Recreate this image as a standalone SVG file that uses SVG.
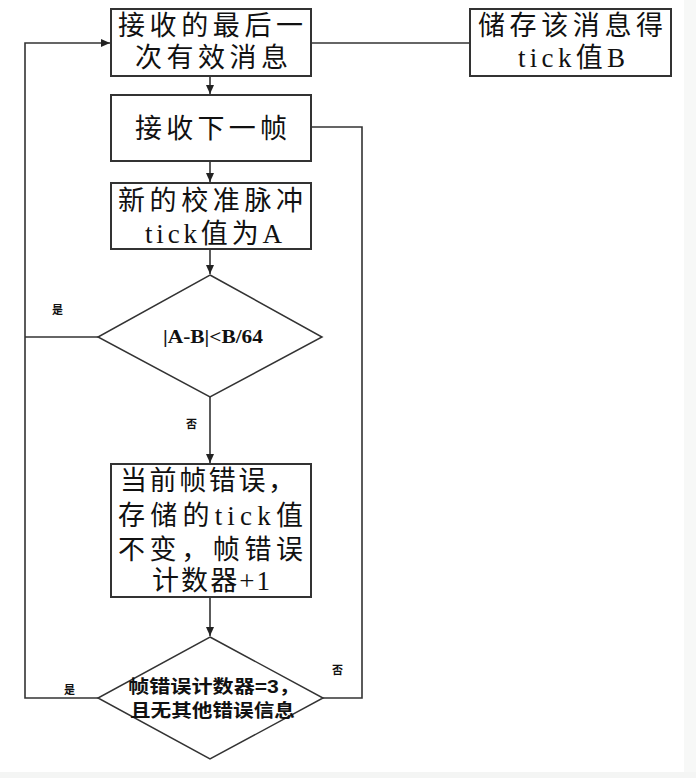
<svg xmlns="http://www.w3.org/2000/svg" width="696" height="778" viewBox="0 0 696 778">
<style>
.bg{fill:#ffffff}
.box{fill:#ffffff;stroke:#333333;stroke-width:2}
.dia{fill:#ffffff;stroke:#333333;stroke-width:1.5}
.ln{fill:none;stroke:#333333;stroke-width:1.6}
.t{font-family:"Liberation Serif","Noto Sans CJK SC",serif;font-size:27px;fill:#111111}
.d{font-family:"Liberation Sans","Noto Sans CJK SC",sans-serif;font-size:18px;font-weight:bold;fill:#111111}
.d1{font-family:"Liberation Serif","Noto Sans CJK SC",serif;font-size:18px;font-weight:bold;fill:#111111}
.lb{font-family:"Liberation Sans","Noto Sans CJK SC",sans-serif;font-size:11px;font-weight:bold;fill:#111111}
</style>
<defs>
<marker id="ah" markerWidth="10" markerHeight="10" refX="9" refY="5" orient="auto" markerUnits="userSpaceOnUse">
<path d="M0,1 L9,5 L0,9 Z" fill="#222222"/>
</marker>
</defs>
<rect class="bg" x="0" y="0" width="696" height="778"/>
<rect x="684" y="0" width="12" height="778" fill="#f7f8f7"/>
<rect x="0" y="772" width="696" height="6" fill="#f4f5f4"/>
<g id="connectors">
<path class="ln" d="M311,43 H470"/>
<path class="ln" d="M210,76 V94" marker-end="url(#ah)"/>
<path class="ln" d="M210,161 V182" marker-end="url(#ah)"/>
<path class="ln" d="M210,249 V274" marker-end="url(#ah)"/>
<path class="ln" d="M210,397 V463" marker-end="url(#ah)"/>
<path class="ln" d="M210,597 V636" marker-end="url(#ah)"/>
<path class="ln" d="M98,337 H25"/>
<path class="ln" d="M98,698 H25 V43 H110" marker-end="url(#ah)"/>
<path class="ln" d="M323,698 H362 V127 H311"/>
<text class="lb" x="52" y="314">是</text>
<text class="lb" x="186" y="428">否</text>
<text class="lb" x="64" y="694">是</text>
<text class="lb" x="332" y="674">否</text>
</g>
<g id="n1">
<rect class="box" x="111" y="9" width="200" height="67"/>
<text class="t" x="118" y="35" textLength="185" lengthAdjust="spacing">接收的最后一</text>
<text class="t" x="135" y="67" textLength="153" lengthAdjust="spacing">次有效消息</text>
</g>
<g id="n_store">
<rect class="box" x="470" y="9" width="201" height="67"/>
<text class="t" x="478" y="35" textLength="185" lengthAdjust="spacing">储存该消息得</text>
<text class="t" x="518" y="67" textLength="107" lengthAdjust="spacing">tick值B</text>
</g>
<g id="n2">
<rect class="box" x="111" y="95" width="200" height="66"/>
<text class="t" x="135" y="138" textLength="152" lengthAdjust="spacing">接收下一帧</text>
</g>
<g id="n3">
<rect class="box" x="111" y="183" width="200" height="66"/>
<text class="t" x="118" y="210" textLength="185" lengthAdjust="spacing">新的校准脉冲</text>
<text class="t" x="145" y="243" textLength="137" lengthAdjust="spacing">tick值为A</text>
</g>
<g id="d1">
<polygon class="dia" points="210,275 322,337 210,397 98,337"/>
<text class="d1" x="163" y="343" textLength="100" lengthAdjust="spacingAndGlyphs">|A-B|&lt;B/64</text>
</g>
<g id="n4">
<rect class="box" x="111" y="464" width="200" height="133"/>
<text class="t" x="120" y="490" textLength="175" lengthAdjust="spacing">当前帧错误，</text>
<text class="t" x="118" y="525" textLength="185" lengthAdjust="spacing">存储的tick值</text>
<text class="t" x="118" y="559" textLength="185" lengthAdjust="spacing">不变，帧错误</text>
<text class="t" x="152" y="590" textLength="118" lengthAdjust="spacing">计数器+1</text>
</g>
<g id="d2">
<polygon class="dia" points="210,637 323,698 210,759 98,698"/>
<text class="d" x="128" y="693" textLength="172" lengthAdjust="spacingAndGlyphs">帧错误计数器=3，</text>
<text class="d" x="130" y="717" textLength="165" lengthAdjust="spacingAndGlyphs">且无其他错误信息</text>
</g>
</svg>
